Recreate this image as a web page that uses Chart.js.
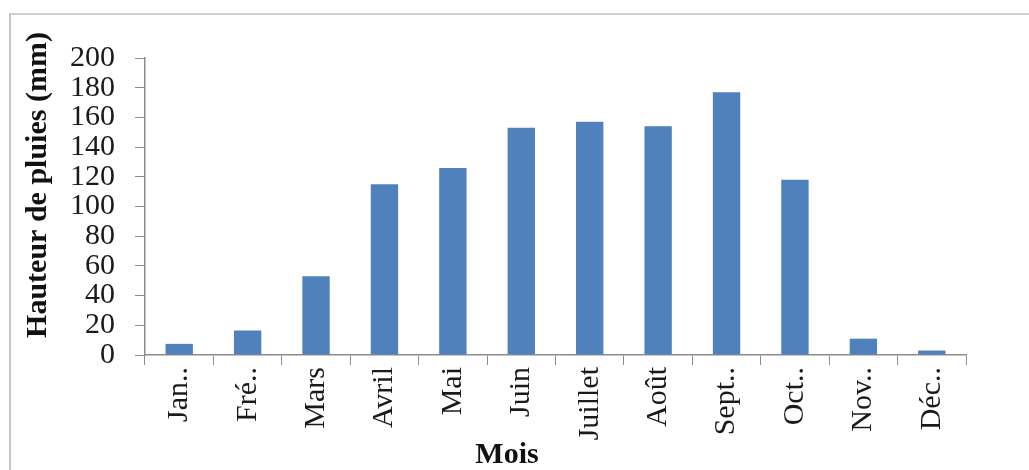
<!DOCTYPE html>
<html>
<head>
<meta charset="utf-8">
<script src="https://cdn.jsdelivr.net/npm/chart.js@4/dist/chart.umd.min.js"></script>
<style>
  body { margin: 0; background: #fff; }
  #wrap { position: relative; width: 1029px; height: 470px; }
  #cadre { position: absolute; left: 9px; top: 13px; right: 0; bottom: 0;
           border-top: 2px solid #cfcfcf; border-left: 2px solid #c4c4c4; }
  canvas { position: absolute; left: 0; top: 0; }
</style>
</head>
<body>
<div id="wrap">
  <div id="cadre"></div>
  <canvas id="pluie" width="1029" height="470"></canvas>
</div>
<script>
// donnees
const mois = ['Jan..', 'Fré..', 'Mars', 'Avril', 'Mai', 'Juin', 'Juillet', 'Août', 'Sept..', 'Oct..', 'Nov..', 'Déc..'];
const hauteurs = [7.5, 16.5, 53, 115, 126, 153, 157, 154, 177, 118, 11, 3];
const graduations = [0, 20, 40, 60, 80, 100, 120, 140, 160, 180, 200];

const titreY = 'Hauteur de pluies (mm)';
const titreX = 'Mois';

// titres des axes dessines a la main (positions comme sur l'image)
const titres = {
    id: 'titres',
    afterDraw(chart) {
        const ctx = chart.ctx;
        ctx.save();
        ctx.fillStyle = '#111';
        ctx.font = 'bold 30px "Liberation Serif", serif';
        ctx.textAlign = 'center';
        ctx.textBaseline = 'middle';
        ctx.fillText(titreX, 507, 455);
        ctx.translate(38, 185);
        ctx.rotate(-Math.PI / 2);
        ctx.fillText(titreY, 0, 0);
        ctx.restore();
    }
};

const data = {
    labels: mois,
    datasets: [{
        label: titreY,
        data: hauteurs,
        backgroundColor: '#4F81BD',
        barPercentage: 0.4,
        categoryPercentage: 1
    }]
};

const config = {
    type: 'bar',
    data: data,
    options: {
        responsive: false,
        animation: false,
        layout: { padding: { left: 0, right: 63, top: 58, bottom: 0 } },
        plugins: { legend: { display: false }, tooltip: { enabled: false } },
        scales: {
            x: {
                grid: { display: true, drawOnChartArea: false, drawTicks: true, tickLength: 10, color: '#8c8c8c' },
                border: { color: '#8c8c8c', width: 1.5 },
                ticks: {
                    color: '#1a1a1a',
                    font: { family: '"Liberation Serif", serif', size: 30 },
                    minRotation: 90, maxRotation: 90, autoSkip: false, padding: 2
                },
                afterFit(scale) { scale.height = 115; }
            },
            y: {
                min: 0, max: 200,
                afterBuildTicks(scale) { scale.ticks = graduations.map(v => ({ value: v })); },
                grid: { display: true, drawOnChartArea: false, drawTicks: true, tickLength: 10, color: '#8c8c8c' },
                border: { color: '#8c8c8c', width: 1.5 },
                ticks: {
                    color: '#1a1a1a',
                    font: { family: '"Liberation Serif", serif', size: 30, lineHeight: 1 },
                    autoSkip: false, padding: 20
                },
                afterFit(scale) { scale.width = 145; }
            }
        }
    },
    plugins: [titres]
};

let ctx = document.getElementById('pluie').getContext('2d');
new Chart(ctx, config);
</script>
</body>
</html>
